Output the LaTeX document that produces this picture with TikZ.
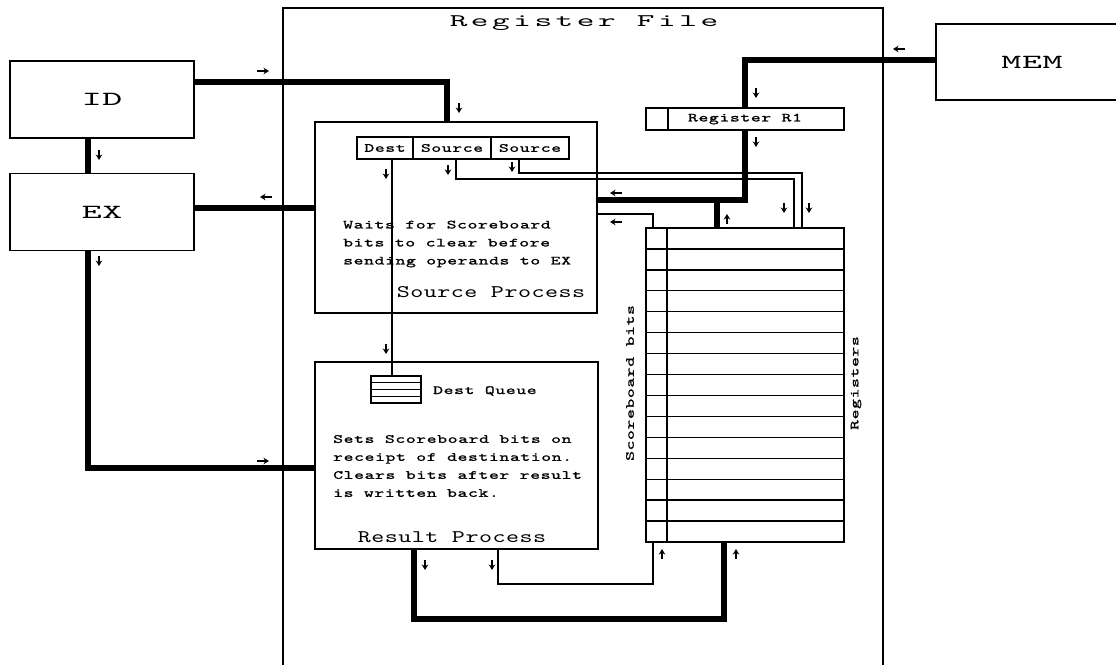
\documentclass[tikz,border=0pt]{standalone}
\usepackage{fontspec}
\usetikzlibrary{arrows.meta}
\newfontfamily\stagefont{lmmono10-regular.otf}[FakeStretch=1.9,LetterSpace=3]
\newfontfamily\titlefont{lmmono10-regular.otf}[FakeStretch=1.9,LetterSpace=20]
\newfontfamily\procfont{lmmono10-regular.otf}[FakeStretch=1.4,LetterSpace=3]
\newfontfamily\notefont{lmmono10-regular.otf}[FakeStretch=1.5,LetterSpace=5,FakeBold=1.2]
\tikzset{
  blk/.style={draw, line width=1.8pt, inner sep=0pt},
  stage/.style={blk, minimum width=184pt, minimum height=77pt, font=\stagefont\fontsize{20}{24}\selectfont},
  cell/.style={draw, line width=1.3pt, inner sep=0pt},
  note/.style={inner sep=0pt, align=left, font=\notefont\fontsize{12.5}{18}\selectfont},
  proclabel/.style={inner sep=0pt, font=\procfont\fontsize{17.7}{20}\selectfont},
  bus/.style={line width=5.5pt},
  wire/.style={line width=1.3pt},
  flowtick/.style={-{Stealth[length=5.5pt,width=6.5pt]}, line width=2pt}
}
\begin{document}
\begin{tikzpicture}[x=1pt,y=-1pt]
\useasboundingbox (0,0) rectangle (1116,664);
\clip (0,0) rectangle (1116,664);

% register file outline
\draw[line width=1.5pt] (283,670) -- (283,8) -- (883,8) -- (883,670);
\node[inner sep=0pt, font=\titlefont\fontsize{17.7}{20}\selectfont] (rftitle) at (584,23) {Register File};

% pipeline stages
\node[stage] (id) at (102,99.5) {ID};
\node[stage] (ex) at (102,212) {EX};
\node[stage, minimum width=192pt, minimum height=76pt] (mem) at (1032,62) {MEM};

% source process
\node[blk, minimum width=282pt, minimum height=191pt] (srcproc) at (456,217.5) {};
\node[cell, note, minimum width=56pt, minimum height=22pt] (dest) at (385,148) {Dest};
\node[cell, note, minimum width=78pt, minimum height=22pt] (src1) at (452,148) {Source};
\node[cell, note, minimum width=78pt, minimum height=22pt] (src2) at (530,148) {Source};
\node[note, anchor=west] (srcnote) at (343,244) {Waits for Scoreboard\\bits to clear before\\sending operands to EX};
\node[proclabel] (srclabel) at (491,292) {Source Process};

% result process
\node[blk, minimum width=283pt, minimum height=187pt] (resproc) at (456.5,455.5) {};
\node[cell, minimum width=50pt, minimum height=27pt] (queue) at (396,389.5) {};
\foreach \i in {1,2,3}
  \draw[wire] (371,376+\i*6.75) -- (421,376+\i*6.75);
\node[note, anchor=west] (queuelabel) at (433,391) {Dest Queue};
\node[note, anchor=west] (resnote) at (333,466) {Sets Scoreboard bits on\\receipt of destination.\\Clears bits after result\\is written back.};
\node[proclabel] (reslabel) at (452,537) {Result Process};

% register R1 and the register array
\node[cell, note, minimum width=198pt, minimum height=22pt] (r1) at (745,119) {Register R1};
\draw[wire] (668,0 |- r1.north) -- (668,0 |- r1.south);
\node[cell, minimum width=198pt, minimum height=314pt] (regs) at (745,385) {};
\draw[wire] (667,0 |- regs.north) -- (667,0 |- regs.south);
\foreach \i in {1,...,14}
  \draw[wire] (646,228+\i*20.93) -- (844,228+\i*20.93);
\node[note, rotate=90] (sblabel) at (630,383) {Scoreboard bits};
\node[note, rotate=90] (reglabel) at (856,383) {Registers};

% buses
\coordinate (idbend) at (447,82);
\draw[bus] (id.east |- idbend) -- (idbend) -- (idbend |- srcproc.north);
\coordinate (exdown) at (88,468);
\draw[bus] (exdown |- id.south) -- (exdown |- ex.north);
\draw[bus] (exdown |- ex.south) -- (exdown) -- (exdown -| resproc.west);
\coordinate (exin) at (315,208);
\draw[bus] (exin) -- (exin -| ex.east);
\coordinate (membend) at (745,60);
\draw[bus] (mem.west |- membend) -- (membend) -- (membend |- r1.north);
\coordinate (r1bend) at (745,200);
\draw[bus] (r1bend |- r1.south) -- (r1bend) -- (r1bend -| srcproc.east);
\coordinate (regin) at (717,200);
\draw[bus] (regin) -- (regin |- regs.north);
\coordinate (wbbend) at (414,619);
\coordinate (wbin) at (724,619);
\draw[bus] (wbbend |- resproc.south) -- (wbbend) -- (wbin) -- (wbin |- regs.south);

% thin wires
\coordinate (dq) at (392,376);
\draw[wire] (dq |- dest.south) -- (dq);
\coordinate (s1bend) at (794,179);
\draw[wire] ([xshift=4pt]src1.south) |- (s1bend) -- (s1bend |- regs.north);
\coordinate (s2bend) at (802,173);
\draw[wire] ([xshift=-11pt]src2.south) |- (s2bend) -- (s2bend |- regs.north);
\coordinate (sbout) at (653,214);
\draw[wire] (sbout |- regs.north) -- (sbout) -- (sbout -| srcproc.east);
\coordinate (sbset) at (498,584);
\coordinate (sbin) at (653,584);
\draw[wire] (sbset |- resproc.south) -- (sbset) -- (sbin) -- (sbin |- regs.south);

% direction marks
\foreach \x/\y in {99/155, 99/261, 459/108, 386/174, 448/170, 512/167, 784/208, 809/208, 756/93, 756/142, 386/349, 425/565, 492/565}
  \draw[flowtick] (\x,\y-5) -- (\x,\y+5);
\foreach \x/\y in {727/219, 662/554, 736/554}
  \draw[flowtick] (\x,\y+5) -- (\x,\y-5);
\foreach \x/\y in {266/197, 616/193, 616/222, 899/49}
  \draw[flowtick] (\x+6,\y) -- (\x-6,\y);
\foreach \x/\y in {263/71, 263/461}
  \draw[flowtick] (\x-6,\y) -- (\x+6,\y);
\end{tikzpicture}
\end{document}
